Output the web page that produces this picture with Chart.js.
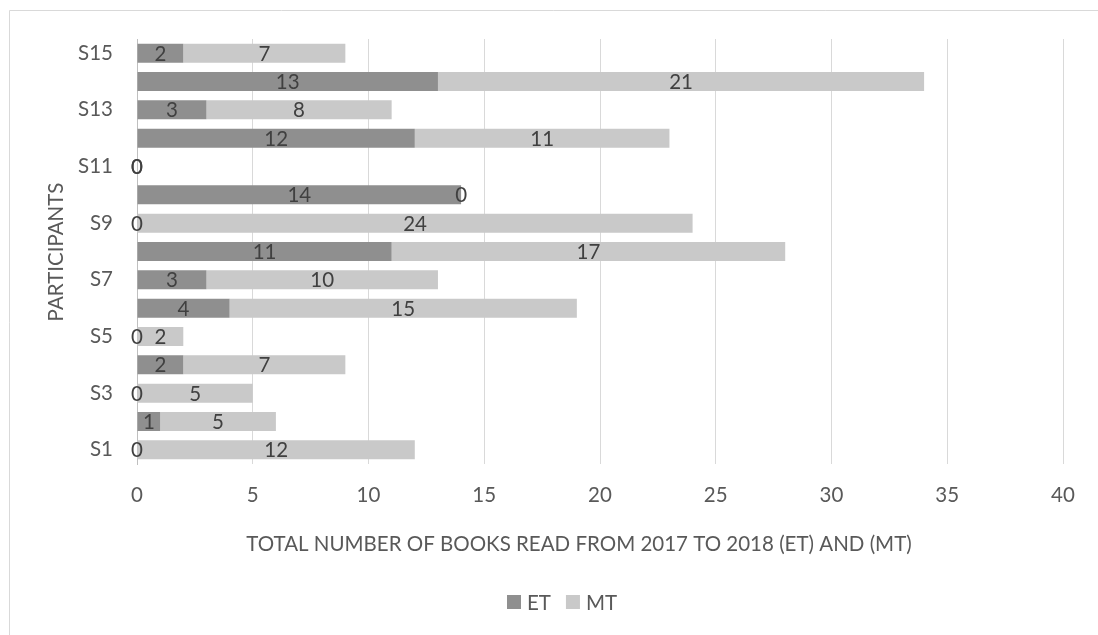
<!DOCTYPE html>
<html>
<head>
<meta charset="utf-8">
<script src="https://cdn.jsdelivr.net/npm/chart.js@4/dist/chart.umd.min.js"></script>
<style>
  html, body { margin: 0; padding: 0; background: #fff; }
  #wrap { position: relative; width: 1098px; height: 635px; }
</style>
</head>
<body>
<div id="wrap"><canvas id="c" width="1098" height="635"></canvas></div>
<script>
const categories = ['S1','S2','S3','S4','S5','S6','S7','S8','S9','S10','S11','S12','S13','S14','S15'];
const etValues = [0, 1, 0, 2, 0, 4, 3, 11, 0, 14, 0, 12, 3, 13, 2];
const mtValues = [12, 5, 5, 7, 2, 15, 10, 17, 24, 0, 0, 11, 8, 21, 7];
const xTicks = [0, 5, 10, 15, 20, 25, 30, 35, 40];
const seriesNames = ['ET', 'MT'];
const xTitle = 'TOTAL NUMBER OF BOOKS READ FROM 2017 TO 2018 (ET) AND (MT)';
const yTitle = 'PARTICIPANTS';

const FONT = 'Lato';
const FSIZE = 20.5;
const TEXT = '#595959';
const LABEL = '#404040';

const extras = {
  id: 'extras',
  beforeDraw(chart) {
    const ctx = chart.ctx;
    ctx.save();
    ctx.fillStyle = '#fff';
    ctx.fillRect(0, 0, chart.width, chart.height);
    ctx.strokeStyle = '#d9d9d9';
    ctx.lineWidth = 1;
    ctx.beginPath();
    ctx.moveTo(9.5, 635);
    ctx.lineTo(9.5, 10.5);
    ctx.lineTo(1098, 10.5);
    ctx.stroke();
    ctx.restore();
  },
  afterDatasetsDraw(chart) {
    const ctx = chart.ctx;
    ctx.save();
    ctx.font = `${FSIZE}px ${FONT}`;
    ctx.fillStyle = LABEL;
    ctx.textAlign = 'center';
    ctx.textBaseline = 'middle';
    chart.data.datasets.forEach((ds, di) => {
      const meta = chart.getDatasetMeta(di);
      meta.data.forEach((bar, i) => {
        const x = (bar.x + bar.base) / 2;
        ctx.fillText(String(ds.data[i]), x, bar.y + 1);
      });
    });
    ctx.restore();
  },
  afterDraw(chart) {
    const ctx = chart.ctx;
    ctx.save();
    ctx.font = `${FSIZE}px ${FONT}`;
    ctx.fillStyle = TEXT;
    ctx.textBaseline = 'middle';
    ctx.textAlign = 'center';
    ctx.fillText(xTitle, 579, 544);
    ctx.save();
    ctx.translate(56, 252);
    ctx.rotate(-Math.PI / 2);
    ctx.fillText(yTitle, 0, 0);
    ctx.restore();
    // legend
    ctx.textAlign = 'left';
    let lx = 507;
    chart.data.datasets.forEach((ds) => {
      ctx.fillStyle = ds.backgroundColor;
      ctx.fillRect(lx, 595, 14, 14);
      ctx.fillStyle = TEXT;
      ctx.fillText(ds.label, lx + 20, 603);
      lx += 20 + ctx.measureText(ds.label).width + 15;
    });
    ctx.restore();
  }
};

new Chart(document.getElementById('c'), {
  type: 'bar',
  data: {
    labels: categories,
    datasets: [
      { label: seriesNames[0], data: etValues, backgroundColor: '#8f8f8f', barPercentage: 0.67, categoryPercentage: 1.0 },
      { label: seriesNames[1], data: mtValues, backgroundColor: '#c9c9c9', barPercentage: 0.67, categoryPercentage: 1.0 }
    ]
  },
  options: {
    indexAxis: 'y',
    responsive: false,
    animation: false,
    layout: { padding: { top: 39, right: 35, bottom: 0, left: 0 } },
    plugins: { legend: { display: false }, tooltip: { enabled: false } },
    scales: {
      x: {
        stacked: true,
        min: 0, max: 40,
        afterBuildTicks(scale) { scale.ticks = xTicks.map(v => ({ value: v })); },
        afterFit(scale) { scale.height = 171; },
        grid: { color: '#d9d9d9', lineWidth: 1, drawTicks: false },
        border: { display: false },
        ticks: { color: TEXT, font: { family: FONT, size: FSIZE }, padding: 19 }
      },
      y: {
        stacked: true,
        reverse: true,
        afterFit(scale) { scale.width = 137; },
        grid: { display: false, drawTicks: false },
        border: { display: true, color: '#bfbfbf', width: 1 },
        ticks: {
          color: TEXT, font: { family: FONT, size: FSIZE }, padding: 24, autoSkip: false,
          callback(val, idx) { return idx % 2 === 0 ? categories[idx] : ''; }
        }
      }
    }
  },
  plugins: [extras]
});
</script>
</body>
</html>
